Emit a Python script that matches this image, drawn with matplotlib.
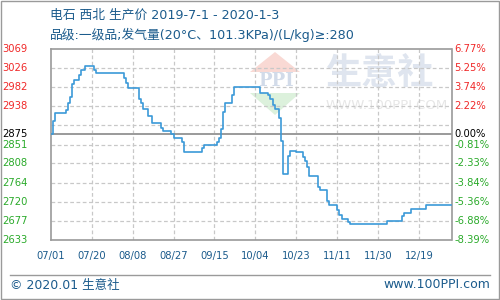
import matplotlib.pyplot as plt
import matplotlib.patches as mpatches
from matplotlib.lines import Line2D
import numpy as np

plt.rcParams['font.family'] = ['DejaVu Sans', 'Noto Sans CJK SC']

# 标题
title = '电石 西北 生产价 2019-7-1 - 2020-1-3'
subtitle = '品级:一级品;发气量(20°C、101.3KPa)/(L/kg)≥:280'

# 价格变动日期与价格 (阶梯线)
change_dates = [
    '2019-07-01', '2019-07-02', '2019-07-03', '2019-07-08', '2019-07-09',
    '2019-07-10', '2019-07-11', '2019-07-12', '2019-07-14', '2019-07-15',
    '2019-07-17', '2019-07-21', '2019-07-22', '2019-08-04', '2019-08-05',
    '2019-08-06', '2019-08-11', '2019-08-12', '2019-08-13', '2019-08-15',
    '2019-08-17', '2019-08-18', '2019-08-21', '2019-08-22', '2019-08-26',
    '2019-08-27', '2019-08-31', '2019-09-01', '2019-09-09', '2019-09-10',
    '2019-09-16', '2019-09-17', '2019-09-18', '2019-09-19', '2019-09-20',
    '2019-09-23', '2019-09-24', '2019-10-06', '2019-10-10', '2019-10-11',
    '2019-10-12', '2019-10-13', '2019-10-15', '2019-10-16', '2019-10-17',
    '2019-10-19', '2019-10-20', '2019-10-23', '2019-10-26', '2019-10-27',
    '2019-10-28', '2019-10-29', '2019-11-02', '2019-11-03', '2019-11-06',
    '2019-11-07', '2019-11-11', '2019-11-12', '2019-11-13', '2019-11-16',
    '2019-11-17', '2019-12-04', '2019-12-11', '2019-12-12', '2019-12-15',
    '2019-12-22', '2020-01-03',
]
prices = [
    2875, 2905, 2922, 2930, 2945,
    2960, 2988, 2998, 3010, 3021,
    3031, 3021, 3014, 3002, 2991,
    2981, 2956, 2945, 2931, 2917,
    2901, 2899, 2889, 2882, 2874,
    2866, 2856, 2833, 2842, 2850,
    2857, 2865, 2886, 2926, 2946,
    2964, 2982, 2968, 2964, 2956,
    2941, 2931, 2911, 2860, 2784,
    2825, 2837, 2833, 2823, 2813,
    2800, 2779, 2755, 2747, 2721,
    2712, 2702, 2690, 2681, 2675,
    2669, 2676, 2688, 2694, 2703,
    2712, 2712,
]

base_price = 2875
ytick_vals = [2633, 2677, 2720, 2764, 2808, 2851, 2895, 2938, 2982, 3026, 3069]
pct_labels = ['-8.39%', '-6.88%', '-5.36%', '-3.84%', '-2.33%', '-0.81%', '',
              '2.22%', '3.74%', '5.25%', '6.77%']

tick_dates = ['2019-07-01', '2019-07-20', '2019-08-08', '2019-08-27', '2019-09-15',
              '2019-10-04', '2019-10-23', '2019-11-11', '2019-11-30', '2019-12-19']
tick_labels = ['07/01', '07/20', '08/08', '08/27', '09/15',
               '10/04', '10/23', '11/11', '11/30', '12/19']

dates = np.array(change_dates, dtype='datetime64[D]')
xticks = np.array(tick_dates, dtype='datetime64[D]')

blue_text = '#1b5b8c'
red = '#f02828'
green = '#2aaa2a'
gray = '#9a9a9a'

fig = plt.figure(figsize=(5, 3), dpi=100)
W, H = 500.0, 300.0


def fx(x):
    return x / W


def fy(y):
    return 1 - y / H


# 水印
fig.add_artist(mpatches.Polygon([(fx(250), fy(72)), (fx(300), fy(72)), (fx(275), fy(52))],
                                closed=True, transform=fig.transFigure,
                                fc='#f9d9d4', ec='none', zorder=-2))
fig.add_artist(mpatches.Polygon([(fx(250), fy(93)), (fx(300), fy(93)), (fx(275), fy(115))],
                                closed=True, transform=fig.transFigure,
                                fc='#dcf1dc', ec='none', zorder=-2))
fig.text(fx(276), fy(81), 'PPI', fontsize=13, color='#d2dbe9', ha='center', va='center',
         family='DejaVu Serif', weight='bold', zorder=-1)
fig.text(fx(326), fy(73), '生意社', fontsize=26, color='#dfe5ef', ha='left', va='center',
         family='Noto Sans CJK SC', weight='bold', zorder=-1)
fig.text(fx(326), fy(106), 'WWW.100PPI.COM', fontsize=9.5, color='#e6e6e6', ha='left',
         va='center', zorder=-1)

ax = fig.add_axes([50.7 / W, 1 - 240 / H, 400.8 / W, 191 / H])
ax.set_facecolor('none')

for v in ytick_vals[1:-1]:
    ax.axhline(v, color='#c8c8c8', lw=0.9, ls=(0, (3, 2)), zorder=1)
for d in xticks[1:]:
    ax.axvline(d, color='#c8c8c8', lw=0.9, ls=(0, (3, 2)), zorder=1)
ax.axhline(base_price, color=gray, lw=1.4, zorder=2)

ax.step(dates, prices, where='post', color='#3b99d8', lw=1.2, zorder=3)

ax.set_xlim(dates[0], dates[-1])
ax.set_ylim(ytick_vals[0], ytick_vals[-1])
for s in ax.spines.values():
    s.set_color(gray)
    s.set_linewidth(1.2)

ax.set_yticks([])
ax.set_xticks(xticks, tick_labels)
ax.tick_params(axis='x', length=0, pad=8, labelsize=7.2, labelcolor=blue_text)

ytr = ax.get_yaxis_transform()
for v, p in zip(ytick_vals, pct_labels):
    if p == '':
        continue
    c = red if v > base_price else green
    ax.text(-0.057, v, str(v), transform=ytr, ha='right', va='center',
            fontsize=7.2, color=c)
    ax.text(1.007, v, p, transform=ytr, ha='left', va='center',
            fontsize=7.2, color=c)
ax.text(-0.057, base_price, str(base_price), transform=ytr, ha='right', va='center',
        fontsize=7.2, color='black')
ax.text(1.007, base_price, '0.00%', transform=ytr, ha='left', va='center',
        fontsize=7.2, color='black')

# 标题与页脚
fig.text(fx(50), fy(15), title, fontsize=9.2, color=blue_text, va='center')
fig.text(fx(50), fy(35), subtitle, fontsize=9.2, color=blue_text, va='center')

fig.add_artist(Line2D([fx(10), fx(490)], [fy(275), fy(275)], transform=fig.transFigure,
                      color=gray, lw=1))
fig.text(fx(10), fy(285), '© 2020.01 生意社', fontsize=9, color=blue_text, va='center')
fig.text(fx(490), fy(285), 'www.100PPI.com', fontsize=9, color=blue_text, va='center',
         ha='right')
fig.add_artist(mpatches.Rectangle((0.001, 0.002), 0.997, 0.996, transform=fig.transFigure,
                                  fill=False, ec=gray, lw=1))

fig.savefig('out.png', dpi=100)
